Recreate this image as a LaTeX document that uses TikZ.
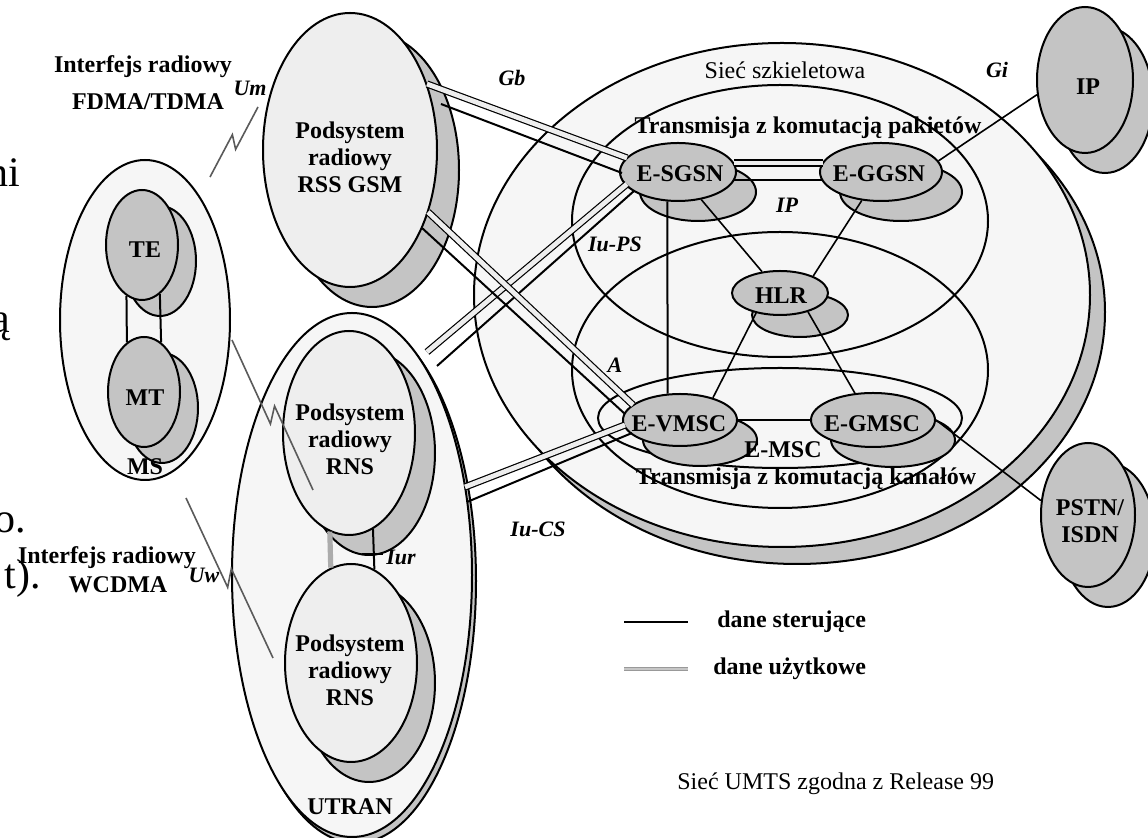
\documentclass[tikz,border=0pt]{standalone}
\usepackage{fontspec}
\setmainfont{Liberation Serif}
\usetikzlibrary{shapes.geometric,shadows,calc}
\definecolor{pale}{HTML}{F6F6F6}
\definecolor{lightf}{HTML}{EEEEEE}
\definecolor{midg}{HTML}{C4C4C4}
\definecolor{radiog}{HTML}{5A5A5A}
\tikzset{
  el/.style 2 args={ellipse, draw=black, line width=1pt, minimum width=#1, minimum height=#2, inner sep=0pt},
  shd/.style 2 args={general shadow={shadow xshift=#1, shadow yshift=#2, fill=midg, draw=black, line width=1pt}},
  ctrl/.style={draw=black, line width=1pt},
  thinl/.style={draw=black, line width=0.8pt},
  userl/.style={draw=black, line width=0.6pt, double=lightf, double distance=2.4pt},
  iurl/.style={draw=gray!65, line width=2.6pt},
  legu/.style={draw=gray!80, line width=0.5pt, double=gray!45, double distance=1.4pt},
  radiol/.style={draw=radiog, line width=0.8pt, line join=miter},
  lbl/.style={font=\fontsize{12}{13.5}\selectfont\bfseries, align=center, inner sep=0pt},
  txt/.style={font=\fontsize{12}{13.5}\selectfont, align=center, inner sep=0pt},
  itl/.style={font=\fontsize{11}{12}\selectfont\bfseries\itshape, inner sep=0pt},
  frag/.style={font=\fontsize{21}{24}\selectfont, inner sep=0pt, anchor=base east},
}
\begin{document}
\begin{tikzpicture}[x=0.5pt,y=-0.5pt]
\useasboundingbox (0,0) rectangle (1148,838);
\fill[white] (0,0) rectangle (1148,838);

% ---------- core network ----------
\node[el={308pt}{252pt}, fill=pale, shd={7.5pt}{-8.5pt}] (core) at (782,295) {};
\node[el={208pt}{136pt}] (ps) at (780,221) {};
\node[el={208pt}{138pt}] (cs) at (780,370) {};
\node[el={182pt}{50pt}] (emsc) at (780,418) {};

% ---------- MS ----------
\node[el={85pt}{160pt}, fill=pale] (ms) at (145,320) {};
\node[el={36pt}{55pt}, fill=midg, shd={9pt}{-8pt}] (te) at (142,245) {};
\node[el={36pt}{55pt}, fill=midg, shd={9pt}{-8pt}] (mt) at (144,392) {};
\node[lbl] at (145,250) {TE};
\node[lbl] at (145,398) {MT};
\node[lbl] (mstxt) at (145,467) {MS};

% ---------- RSS GSM ----------
\node[el={87pt}{137pt}, fill=lightf, shd={11pt}{-10pt}] (rss) at (350,150) {};
\node[lbl] at (350,157) {Podsystem\\radiowy\\RSS GSM};

% ---------- UTRAN ----------
\node[el={120pt}{262pt}, fill=pale, shd={2pt}{-3pt}] (utran) at (352,575) {};
\node[el={66pt}{102pt}, fill=lightf, shd={10pt}{-10pt}] (rns1) at (349,433) {};
\node[el={66pt}{99pt}, fill=lightf, shd={9pt}{-10pt}] (rns2) at (351,663) {};
\node[lbl] at (350,439) {Podsystem\\radiowy\\RNS};
\node[lbl] at (350,670) {Podsystem\\radiowy\\RNS};
\node[lbl] (utrantxt) at (350,807) {UTRAN};

% ---------- external networks ----------
\node[el={48pt}{73pt}, fill=midg, shd={10pt}{-10pt}] (ip) at (1085,80) {};
\node[lbl] at (1088,87) {IP};
\node[el={47pt}{72pt}, fill=midg, shd={10pt}{-10pt}] (pstn) at (1088,515) {};
\node[lbl] at (1090,521) {PSTN/\\ISDN};

% ---------- core nodes ----------
\node[el={58pt}{29pt}, fill=midg, shd={10pt}{-10pt}] (sgsn) at (678,172) {};
\node[el={61pt}{29pt}, fill=midg, shd={10pt}{-10pt}] (ggsn) at (881,172) {};
\node[el={48pt}{22pt}, fill=midg, shd={10pt}{-11pt}] (hlr) at (780,293) {};
\node[el={57pt}{26pt}, fill=midg, shd={10pt}{-10pt}] (vmsc) at (680,420) {};
\node[el={62pt}{27pt}, fill=midg, shd={10pt}{-10pt}] (gmsc) at (873,420) {};
\node[lbl] at (680,174) {E-SGSN};
\node[lbl] at (879,174) {E-GGSN};
\node[lbl] at (781,296) {HLR};
\node[lbl] at (679,424) {E-VMSC};
\node[lbl] at (872,424) {E-GMSC};

% ---------- core texts ----------
\node[txt] (coretxt) at (785,70) {Sieć szkieletowa};
\node[lbl] (pstxt) at (808,128) {Transmisja z komutacją pakietów};
\node[lbl] (cstxt) at (806,479) {Transmisja z komutacją kanałów};
\node[lbl] (emsctxt) at (783,450) {E-MSC};

% ---------- interface end points ----------
\coordinate (gbUa) at (427,84);  \coordinate (gbUb) at (627,158);
\coordinate (gbCa) at (441,104); \coordinate (gbCb) at (622,173);
\coordinate (psUa) at (427,352); \coordinate (psUb) at (627,184);
\coordinate (psCa) at (437,366); \coordinate (psCb) at (634,191);
\coordinate (aUa)  at (428,212); \coordinate (aUb)  at (633,405);
\coordinate (aCa)  at (422,228); \coordinate (aCb)  at (625,414);
\coordinate (csUa) at (465,487); \coordinate (csUb) at (625,425);
\coordinate (csCa) at (467,502); \coordinate (csCb) at (632,433);

\draw[userl] (gbUa) -- (gbUb);
\draw[ctrl]  (gbCa) -- (gbCb);
\draw[userl] (psUa) -- (psUb);
\draw[ctrl]  (psCa) -- (psCb);
\draw[userl] (aUa) -- (aUb);
\draw[ctrl]  (aCa) -- (aCb);
\draw[userl] (csUa) -- (csUb);
\draw[ctrl]  (csCa) -- (csCb);

% ---------- core connections ----------
\coordinate (sgU) at (734,163); \coordinate (ggU) at (823,163);
\coordinate (sgC) at (734,180); \coordinate (ggC) at (822,180);
\draw[userl] (sgU) -- (ggU);
\draw[ctrl] (sgC) -- (ggC);
\draw[ctrl] (sgsn.250.7) -- (vmsc.115.3);
\draw[ctrl] (vmsc.east) -- (gmsc.west);
\draw[thinl] (sgsn) -- (hlr);
\draw[thinl] (ggsn.236) -- (hlr.27);
\draw[thinl] (hlr.220) -- (vmsc.34);
\draw[thinl] (hlr.-34) -- (gmsc.124);
\draw[thinl] (ggsn.11.5) -- (ip.197);
\draw[thinl] (gmsc.0) -- (pstn.163);

% ---------- MS internal ----------
\draw[ctrl] (te.253.3) -- (mt.109.3);
\draw[ctrl] (te.290.7) -- (mt.71.9);

% ---------- Iur ----------
\draw[iurl] (rns1.259) -- (rns2.102.6);
\draw[ctrl] (rns1.284.2) -- (rns2.76.7);
\coordinate (tka) at (362,554); \coordinate (tkb) at (383,554);
\draw[ctrl] (tka) -- (tkb);

% ---------- radio links ----------
\coordinate (ra1) at (210,177); \coordinate (rb1) at (258,107);
\coordinate (ra2) at (232,340); \coordinate (rb2) at (313,490);
\coordinate (ra3) at (186,498); \coordinate (rb3) at (273,658);
\draw[radiol] (ra1) -- ($(ra1)!0.56!(rb1)+(-4.5,-3.1)$) -- ($(ra1)!0.44!(rb1)+(4.5,3.1)$) -- (rb1);
\draw[radiol] (ra2) -- ($(ra2)!0.54!(rb2)+(-5.3,2.9)$) -- ($(ra2)!0.46!(rb2)+(5.3,-2.9)$) -- (rb2);
\draw[radiol] (ra3) -- ($(ra3)!0.54!(rb3)+(-5.3,2.9)$) -- ($(ra3)!0.46!(rb3)+(5.3,-2.9)$) -- (rb3);

% ---------- labels ----------
\node[lbl] (if1) at (143,67) {Interfejs radiowy};
\node[lbl] (if1b) at (148,102) {FDMA/TDMA};
\node[lbl] (if2) at (107,558) {Interfejs radiowy};
\node[lbl] (if2b) at (118,585) {WCDMA};
\node[itl] at (250,88) {Um};
\node[itl] at (204,575) {Uw};
\node[itl] at (512,78) {Gb};
\node[itl] at (997,70) {Gi};
\node[itl] at (787,205) {IP};
\node[itl] at (615,244) {Iu-PS};
\node[itl] at (615,365) {A};
\node[itl] at (538,529) {Iu-CS};
\node[itl] at (401,557) {Iur};

% ---------- legend ----------
\coordinate (lg1a) at (624,622); \coordinate (lg1b) at (688,622);
\coordinate (lg2a) at (624,669); \coordinate (lg2b) at (688,669);
\draw[ctrl] (lg1a) -- (lg1b);
\draw[legu] (lg2a) -- (lg2b);
\node[lbl, anchor=west] at (717,622) {dane sterujące};
\node[lbl, anchor=west] at (713,669) {dane użytkowe};
\node[txt, anchor=west] at (677,784) {Sieć UMTS zgodna z Release 99};

% ---------- fragments of surrounding text ----------
\node[frag] at (21,187) {ni};
\node[frag] at (11,333) {ą};
\node[frag] at (26,533) {o.};
\node[frag] at (41,589) {t).};
\end{tikzpicture}
\end{document}
